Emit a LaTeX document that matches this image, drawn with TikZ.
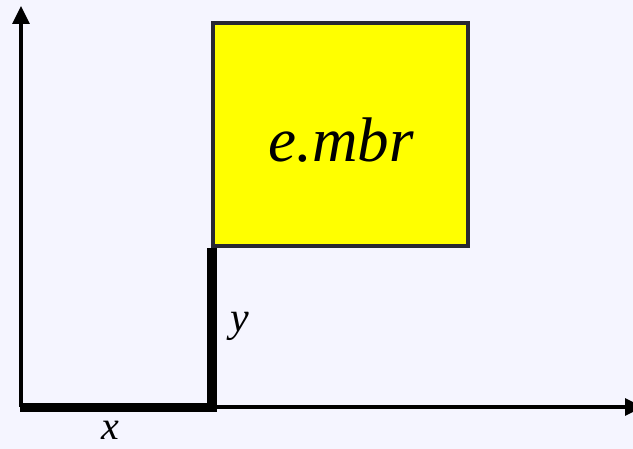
\documentclass[tikz,border=0pt]{standalone}
\usepackage{fontspec}
\setmainfont{Liberation Serif}
\usetikzlibrary{arrows.meta}
\definecolor{bgcol}{RGB}{245,245,255}
\definecolor{boxyellow}{RGB}{255,255,0}
\definecolor{edgecol}{RGB}{40,40,50}
\tikzset{
  axis/.style={line width=3.2pt, draw=black, -{Triangle[length=18pt,width=17pt]}},
  offset/.style={line width=9.5pt, draw=black, line join=miter},
  mbrbox/.style={draw=edgecol, line width=3.2pt, fill=boxyellow, minimum width=255pt, minimum height=223pt, inner sep=0pt},
  lbl/.style={font=\itshape, inner sep=0pt}
}
\begin{document}
\begin{tikzpicture}[x=1pt,y=-1pt]
  \fill[bgcol] (0,0) rectangle (633,449);
  \useasboundingbox (0,0) rectangle (633,449);
  \clip (0,0) rectangle (633,449);
  \coordinate (O) at (21,407);
  \coordinate (ytop) at (21,6);
  \coordinate (xend) at (643,407);
  \coordinate (corner) at (212,407.5);
  \coordinate (start) at (19.5,407.5);
  \node[mbrbox] (mbr) at (340.5,134.5) {};
  \node[lbl, font=\itshape\fontsize{63}{63}\selectfont] (mbrtext) at (341,140) {e.mbr};
  \draw[axis] (O) -- (ytop);
  \draw[axis] (O) -- (xend);
  \draw[offset] (start) -- (corner) -- (corner |- mbr.south);
  \node[lbl, font=\itshape\fontsize{42}{42}\selectfont] (ylbl) at (240,326) {y};
  \node[lbl, font=\itshape\fontsize{40}{40}\selectfont] (xlbl) at (110,430) {x};
\end{tikzpicture}
\end{document}
